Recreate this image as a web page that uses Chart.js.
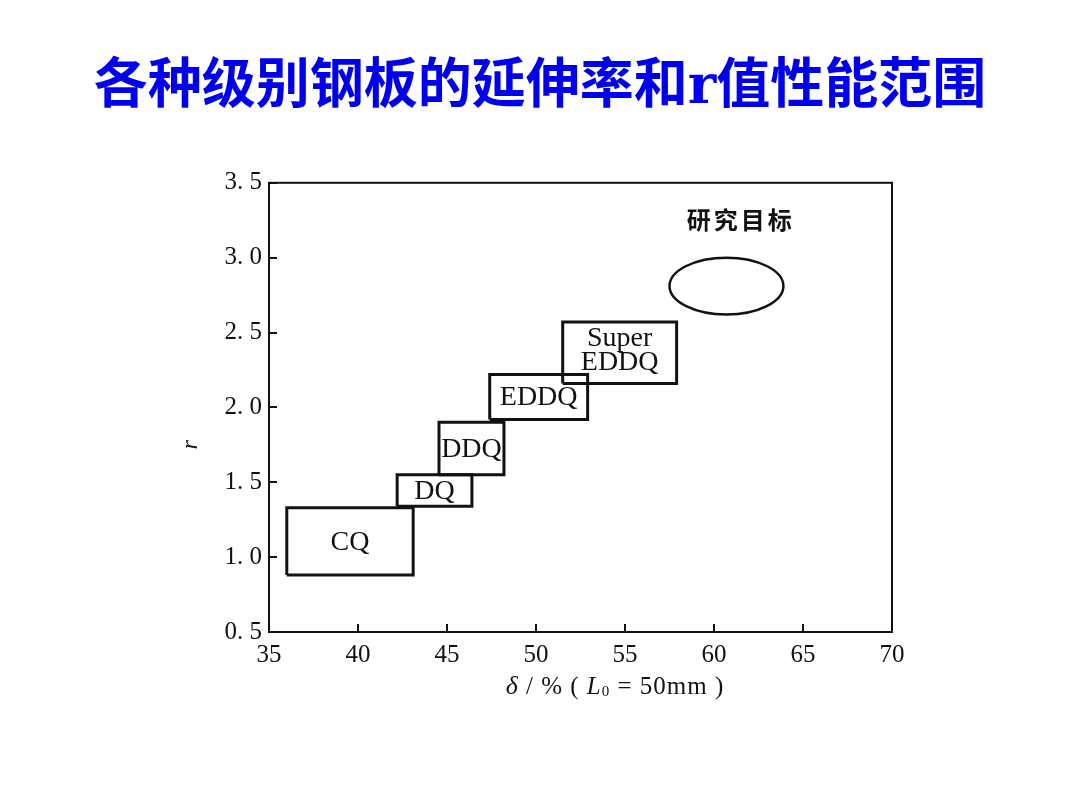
<!DOCTYPE html>
<html>
<head>
<meta charset="utf-8">
<script src="https://cdn.jsdelivr.net/npm/chart.js@4/dist/chart.umd.min.js"></script>
<style>
  html, body { margin: 0; padding: 0; background: #ffffff; }
  #wrap { width: 1080px; height: 810px; }
</style>
</head>
<body>
<div id="wrap"><canvas id="c" width="1080" height="810"></canvas></div>
<script>
// ---- data ----
const chartTitle = '各种级别钢板的延伸率和r值性能范围';
const grades   = ['CQ', 'DQ', 'DDQ', 'EDDQ', 'Super EDDQ'];
const elongMin = [36.0, 42.2, 44.55, 47.4, 51.5];   // δ / %
const elongMax = [43.1, 46.4, 48.2, 52.9, 57.9];
const rMin     = [0.88, 1.34, 1.55, 1.92, 2.16];    // r value
const rMax     = [1.33, 1.55, 1.90, 2.22, 2.57];
const targetName  = '研究目标';
const targetElong = [57.5, 63.9];
const targetR     = [2.62, 3.0];
const targetLabelAt = [61.5, 3.25];
const xTicks = [35, 40, 45, 50, 55, 60, 65, 70];
const yTicks = [0.5, 1.0, 1.5, 2.0, 2.5, 3.0, 3.5];
const yAxisLabel = 'r';

const SERIF = "'Liberation Serif', 'Times New Roman', serif";
const INK = '#111111';

const datasets = grades.map((g, i) => ({
  label: g,
  data: [
    { x: elongMin[i], y: rMin[i] },
    { x: elongMax[i], y: rMin[i] },
    { x: elongMax[i], y: rMax[i] },
    { x: elongMin[i], y: rMax[i] },
    { x: elongMin[i], y: rMin[i] }
  ],
  borderColor: INK,
  borderWidth: 3,
  pointRadius: 0,
  fill: false,
  tension: 0,
  showLine: true
}));

const decor = {
  id: 'decor',
  afterDatasetsDraw(chart) {
    const { ctx, chartArea: a, scales: { x, y } } = chart;
    ctx.save();
    // frame
    ctx.strokeStyle = INK;
    ctx.lineWidth = 2;
    ctx.strokeRect(a.left, a.top, a.right - a.left, a.bottom - a.top);

    // target ellipse
    const cx = x.getPixelForValue((targetElong[0] + targetElong[1]) / 2);
    const cy = y.getPixelForValue((targetR[0] + targetR[1]) / 2);
    const rx = Math.abs(x.getPixelForValue(targetElong[1]) - x.getPixelForValue(targetElong[0])) / 2;
    const ry = Math.abs(y.getPixelForValue(targetR[1]) - y.getPixelForValue(targetR[0])) / 2;
    ctx.beginPath();
    ctx.ellipse(cx, cy, rx, ry, 0, 0, Math.PI * 2);
    ctx.lineWidth = 2.5;
    ctx.stroke();

    // target label
    ctx.fillStyle = INK;
    ctx.textAlign = 'center';
    ctx.textBaseline = 'middle';
    ctx.font = "bold 24px 'Noto Sans CJK SC'";
    if ('letterSpacing' in ctx) ctx.letterSpacing = '3px';
    ctx.fillText(targetName, x.getPixelForValue(targetLabelAt[0]), y.getPixelForValue(targetLabelAt[1]));
    if ('letterSpacing' in ctx) ctx.letterSpacing = '0px';

    // grade labels
    ctx.font = '28px ' + SERIF;
    grades.forEach((g, i) => {
      const px = x.getPixelForValue((elongMin[i] + elongMax[i]) / 2);
      const py = y.getPixelForValue((rMin[i] + rMax[i]) / 2);
      const parts = g.split(' ');
      const lh = 24;
      parts.forEach((p, k) => {
        ctx.fillText(p, px, py + (k - (parts.length - 1) / 2) * lh - (parts.length > 1 ? 3 : 0) + 1);
      });
    });

    // y axis title (rotated italic r)
    ctx.save();
    ctx.translate(a.left - 78, y.getPixelForValue(1.75));
    ctx.rotate(-Math.PI / 2);
    ctx.font = 'italic 24px ' + SERIF;
    ctx.fillText(yAxisLabel, 0, 0);
    ctx.restore();

    // x axis title: δ/%(L0 = 50mm)
    const segs = [
      { t: 'δ', f: 'italic 26px ' + SERIF, dy: 0 },
      { t: ' / % ( ', f: '25px ' + SERIF, dy: 0 },
      { t: 'L', f: 'italic 25px ' + SERIF, dy: 0 },
      { t: '0', f: '15px ' + SERIF, dy: 5 },
      { t: ' = 50mm )', f: '25px ' + SERIF, dy: 0 }
    ];
    let total = 0;
    if ('letterSpacing' in ctx) ctx.letterSpacing = '1px';
    segs.forEach(s => { ctx.font = s.f; s.w = ctx.measureText(s.t).width; total += s.w; });
    let sx = 615 - total / 2;
    const sy = a.bottom + 55;
    ctx.textAlign = 'left';
    segs.forEach(s => { ctx.font = s.f; ctx.fillText(s.t, sx, sy + s.dy); sx += s.w; });
    if ('letterSpacing' in ctx) ctx.letterSpacing = '0px';
    ctx.restore();
  }
};

new Chart(document.getElementById('c'), {
  type: 'scatter',
  data: { datasets },
  options: {
    responsive: false,
    animation: false,
    events: [],
    layout: { padding: { left: 0, right: 0, top: 0, bottom: 138 } },
    plugins: {
      legend: { display: false },
      tooltip: { enabled: false },
      title: {
        display: true,
        text: chartTitle,
        color: '#0000ee',
        font: { family: "'DejaVu Serif', 'Noto Sans CJK SC'", size: 54, weight: 'bold' },
        padding: { top: 57, bottom: 61 }
      }
    },
    scales: {
      x: {
        type: 'linear',
        min: 35, max: 70,
        afterBuildTicks: s => { s.ticks = xTicks.map(v => ({ value: v })); },
        afterFit: s => { s.height = 40; },
        grid: { drawOnChartArea: false, drawTicks: true, tickLength: -8, color: INK, lineWidth: 2 },
        border: { display: true, color: INK, width: 2 },
        ticks: { color: INK, padding: 16, font: { family: SERIF, size: 25 }, maxRotation: 0,
                 callback: v => String(v) }
      },
      y: {
        type: 'linear',
        min: 0.5, max: 3.5,
        afterBuildTicks: s => { s.ticks = yTicks.map(v => ({ value: v })); },
        afterFit: s => { s.width = 269; },
        grid: { drawOnChartArea: false, drawTicks: true, tickLength: -8, color: INK, lineWidth: 2 },
        border: { display: true, color: INK, width: 2 },
        ticks: { color: INK, padding: 15, font: { family: SERIF, size: 25 },
                 callback: v => Number(v).toFixed(1).replace('.', '. ') }
      },
      yRight: {
        type: 'linear',
        position: 'right',
        min: 0.5, max: 3.5,
        display: true,
        afterFit: s => { s.width = 188; },
        grid: { display: false, drawTicks: false },
        border: { display: false },
        ticks: { display: false }
      }
    }
  },
  plugins: [decor]
});
</script>
</body>
</html>
